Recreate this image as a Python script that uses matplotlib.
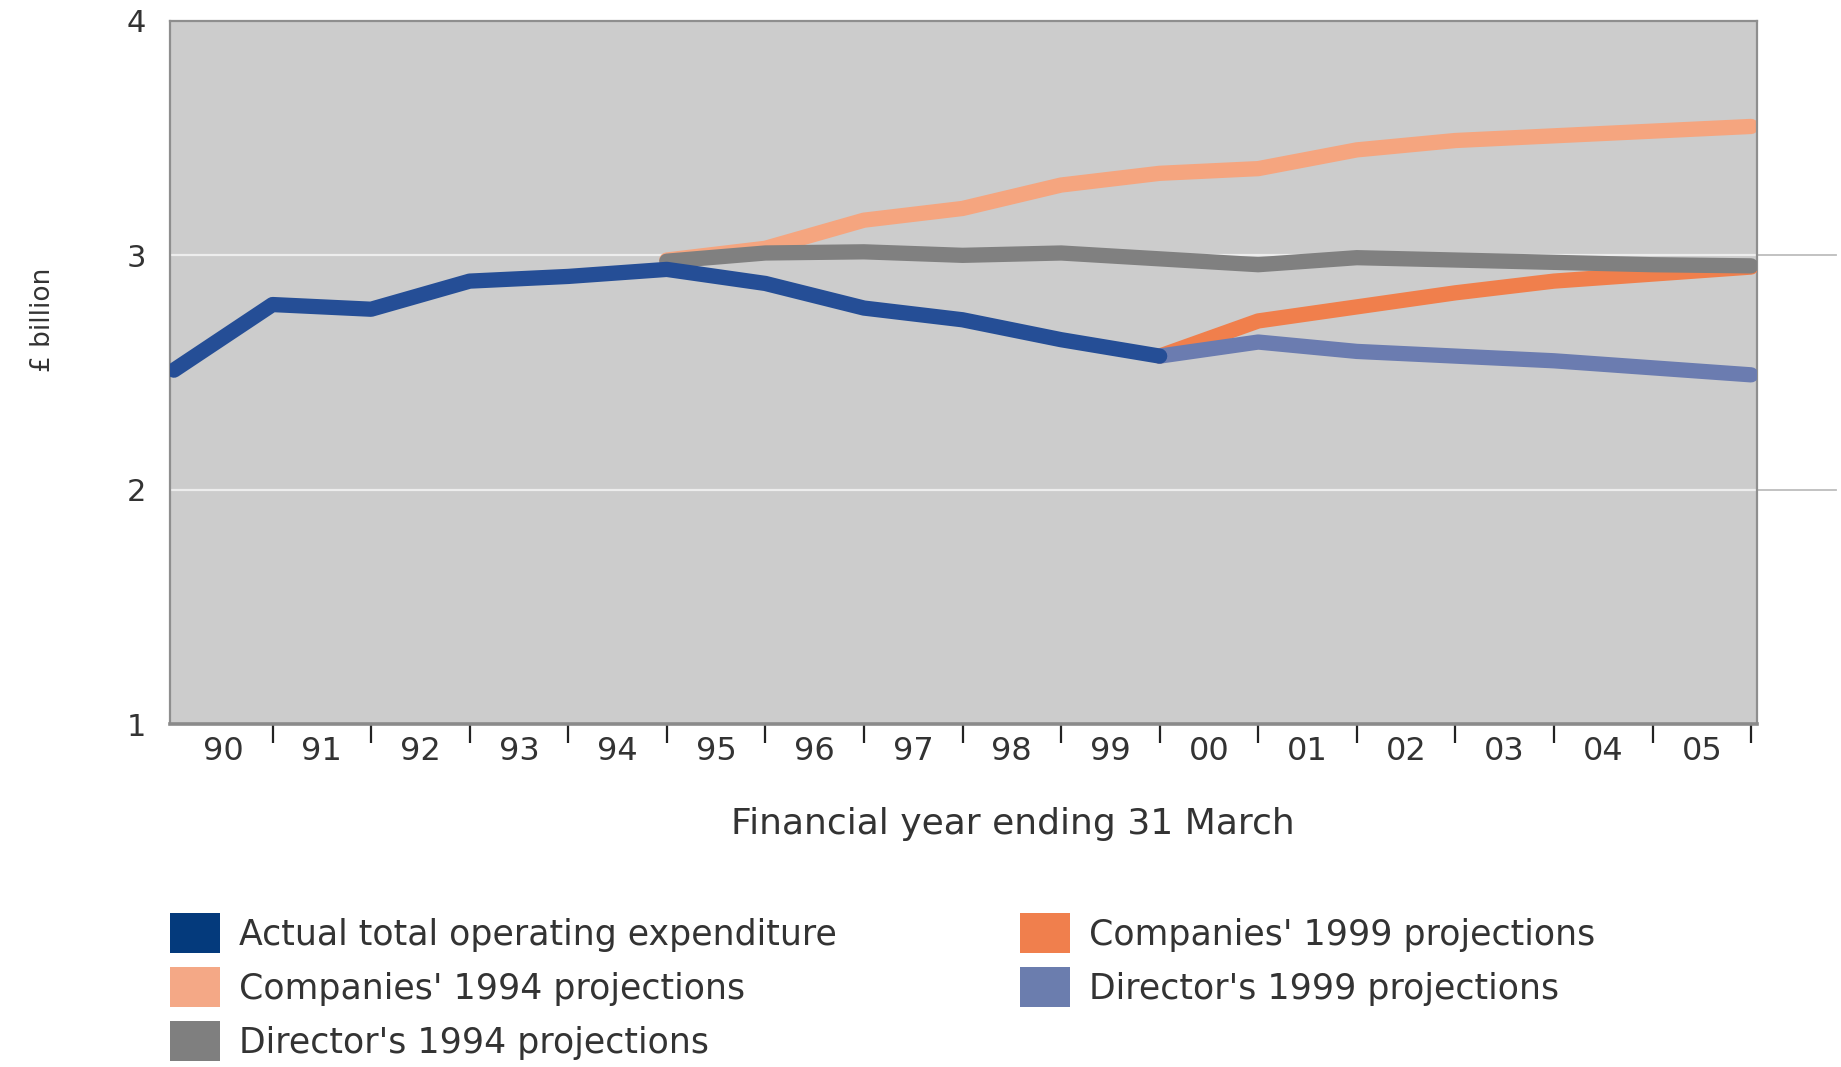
import matplotlib
matplotlib.use("Agg")
import matplotlib.pyplot as plt
from matplotlib.patches import Patch
import numpy as np

# ---- data ----
year_labels = ["90", "91", "92", "93", "94", "95", "96", "97", "98", "99",
               "00", "01", "02", "03", "04", "05"]

actual_x = [0, 1, 2, 3, 4, 5, 6, 7, 8, 9, 10]
actual_y = [2.51, 2.79, 2.77, 2.89, 2.91, 2.94, 2.88, 2.775, 2.725, 2.64, 2.57]

proj94_x = [5, 6, 7, 8, 9, 10, 11, 12, 13, 14, 15, 16]
companies94_y = [2.98, 3.03, 3.15, 3.20, 3.30, 3.35, 3.37, 3.45, 3.49, 3.51, 3.53, 3.55]
director94_y = [2.975, 3.01, 3.015, 3.0, 3.01, 2.985, 2.96, 2.99, 2.98, 2.97, 2.96, 2.955]

proj99_x = [10, 11, 12, 13, 14, 15, 16]
companies99_y = [2.57, 2.72, 2.78, 2.84, 2.89, 2.92, 2.95]
director99_y = [2.57, 2.63, 2.59, 2.57, 2.55, 2.52, 2.49]

legend_labels = ["Actual total operating expenditure",
                 "Companies' 1994 projections",
                 "Director's 1994 projections",
                 "Companies' 1999 projections",
                 "Director's 1999 projections"]
line_colors = ["#254E96", "#F5A57F", "#808080", "#F07F4C", "#6B7CB0"]
swatch_colors = ["#043A7C", "#F4A886", "#7F7F7F", "#F07F4D", "#6B7DAE"]

# ---- figure ----
fig = plt.figure(figsize=(18.41, 10.67), dpi=100)
fig.patch.set_facecolor("white")
ax = fig.add_axes([170 / 1841, 1 - 724 / 1067, (1757 - 170) / 1841, (724 - 21) / 1067])
ax.set_facecolor("#CCCCCC")

ax.set_xlim(-0.04, 16.06)
ax.set_ylim(1, 4)

# gridlines (inside white, outside light gray extension)
for g in [2, 3]:
    ax.axhline(g, xmin=0, xmax=1, color="#EDEDED", lw=1.6, zorder=1)
    ax.axhline(g, xmin=1, xmax=1.05, color="#BDBDBD", lw=1.3, zorder=1, clip_on=False)

lw = 11
kw = dict(lw=lw, solid_capstyle="round", solid_joinstyle="round")
ax.plot(proj94_x, companies94_y, color=line_colors[1], zorder=2, **kw)
ax.plot(proj99_x, companies99_y, color=line_colors[3], zorder=3, **kw)
ax.plot(proj94_x, director94_y, color=line_colors[2], zorder=4, **kw)
ax.plot(proj99_x, director99_y, color=line_colors[4], zorder=5, **kw)
ax.plot(actual_x, actual_y, color=line_colors[0], zorder=6, **kw)

# spines
for s in ["top", "left", "right"]:
    ax.spines[s].set_color("#8E8E8E")
    ax.spines[s].set_linewidth(1.6)
ax.spines["bottom"].set_color("#8A8A8A")
ax.spines["bottom"].set_linewidth(2.6)

# y ticks
ax.set_yticks([1, 2, 3, 4])
ax.set_yticklabels(["1", "2", "3", "4"])
ax.tick_params(axis="y", length=0, pad=17, labelsize=22, labelcolor="#333333")

# x ticks: boundary tick marks (major), labels between (minor)
ax.set_xticks(np.arange(1, 17))
ax.set_xticklabels([])
ax.tick_params(axis="x", which="major", direction="out", length=14, width=1.6,
               color="#222222")
ax.set_xticks(np.arange(16) + 0.5, minor=True)
ax.set_xticklabels(year_labels, minor=True)
ax.tick_params(axis="x", which="minor", length=0, pad=9, labelsize=23,
               labelcolor="#333333")

ax.set_xlabel("Financial year ending 31 March", fontsize=26, color="#333333")
ax.xaxis.set_label_coords(0.531, -0.118)
ax.set_ylabel("£ billion", fontsize=19, color="#333333")
ax.yaxis.set_label_coords(-0.072, 0.575)

# legend
handles = [Patch(facecolor=c, edgecolor="none") for c in swatch_colors]
leg = fig.legend(handles, legend_labels, loc="upper left",
                 bbox_to_anchor=(170 / 1841, 1 - 913 / 1067), ncol=2,
                 frameon=False, fontsize=25, handlelength=1.45, handleheight=1.4,
                 handletextpad=0.55, columnspacing=5.25, labelspacing=0.4,
                 borderpad=0, borderaxespad=0)
for t in leg.get_texts():
    t.set_color("#333333")

fig.savefig("out.png", dpi=100)
